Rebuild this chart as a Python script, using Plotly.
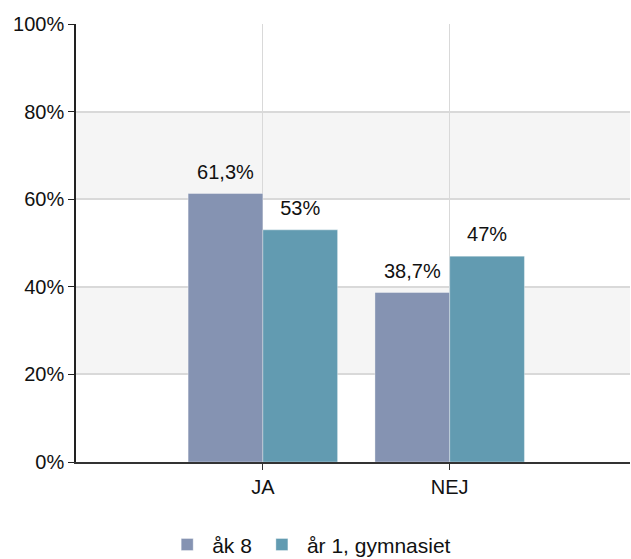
import plotly.graph_objects as go

categories = ['JA', 'NEJ']
series_names = ['åk 8', 'år 1, gymnasiet']
ak8 = [0.613, 0.387]
ar1 = [0.53, 0.47]
colors = ['#8593b2', '#629bb1']
y_ticks = [0, 0.2, 0.4, 0.6, 0.8, 1.0]


def pct_label(v):
    # swedish style: decimal comma, no trailing zeros
    return f'{v * 100:.1f}'.rstrip('0').rstrip('.').replace('.', ',') + '%'


fig = go.Figure()

for name, vals, col in zip(series_names, [ak8, ar1], colors):
    fig.add_trace(go.Bar(
        x=categories, y=vals, name=name,
        marker=dict(color=col, line=dict(color='rgba(255,255,255,0.35)', width=1)),
        offsetgroup=name, hoverinfo='skip'
    ))
    # value labels sit a bit above the bars, grouped like the bars
    fig.add_trace(go.Scatter(
        x=categories, y=vals, mode='markers+text',
        text=[pct_label(v) for v in vals], textposition='top center',
        textfont=dict(size=20, color='#111'),
        marker=dict(size=14, opacity=0), offsetgroup=name,
        showlegend=False, hoverinfo='skip', cliponaxis=False
    ))

# alternating background bands between the gridlines
for lo, hi in [(0.2, 0.4), (0.6, 0.8)]:
    fig.add_shape(type='rect', xref='paper', yref='y', x0=0, x1=1, y0=lo, y1=hi,
                  fillcolor='#f5f5f5', line_width=0, layer='below')

fig.update_layout(
    width=631, height=559,
    margin=dict(l=76, r=1, t=24, b=97),
    plot_bgcolor='white', paper_bgcolor='white',
    barmode='group', bargap=0.2, bargroupgap=0,
    scattermode='group', scattergap=0.2,
    font=dict(family='Arial, Liberation Sans, sans-serif', size=20, color='#111'),
    showlegend=True,
    legend=dict(orientation='h', xref='container', x=0.49, xanchor='center',
                yref='container', y=0.062, yanchor='top',
                font=dict(size=21), itemwidth=40),
)

fig.update_xaxes(
    range=[-1, 1.965], showgrid=True, gridcolor='#d9d9d9', gridwidth=1,
    showline=True, linecolor='#333', linewidth=2,
    ticks='outside', ticklen=6, tickcolor='#333',
    tickfont=dict(size=20), zeroline=False, fixedrange=True
)
fig.update_yaxes(
    range=[0, 1], tickvals=y_ticks, tickformat='.0%',
    showgrid=True, gridcolor='#d9d9d9', gridwidth=1.5,
    showline=True, linecolor='#222', linewidth=1.5,
    ticks='outside', ticklen=6, tickcolor='#222',
    tickfont=dict(size=20), zeroline=False, fixedrange=True
)

# drop the default 8px page margin so the figure fills the window
fig.write_html('out.html', config={'displayModeBar': False},
               post_script="document.body.style.margin='0';")
